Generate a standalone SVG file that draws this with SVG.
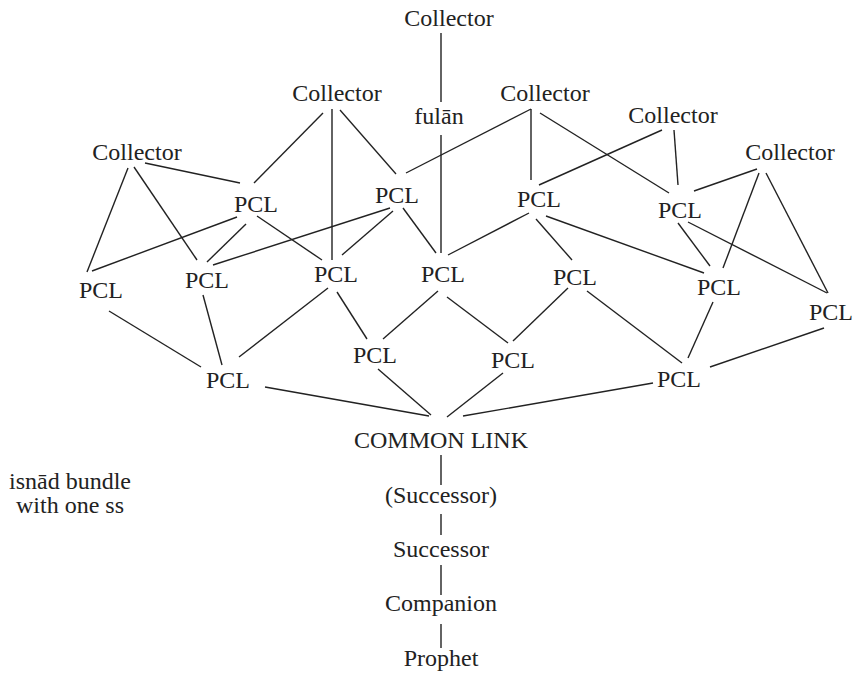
<svg xmlns="http://www.w3.org/2000/svg" width="854" height="678" viewBox="0 0 854 678">
<style>
text{font-family:"Liberation Serif",serif;font-size:24px;fill:#222;text-anchor:middle}
.e line{stroke:#222;stroke-width:1.4;fill:none}
</style>
<rect width="854" height="678" fill="#fff"/>
<g class="e" id="connectors">
<line x1="441" y1="33" x2="441" y2="102"/>
<line x1="441" y1="135" x2="441" y2="253"/>
<line x1="323" y1="113" x2="254" y2="183"/>
<line x1="332" y1="109" x2="332" y2="260"/>
<line x1="340" y1="110" x2="396" y2="174"/>
<line x1="531" y1="109" x2="406" y2="173"/>
<line x1="531" y1="109" x2="531" y2="180"/>
<line x1="540" y1="113" x2="669" y2="193"/>
<line x1="662" y1="130" x2="539" y2="185"/>
<line x1="674" y1="130" x2="678" y2="185"/>
<line x1="757" y1="169" x2="694" y2="191"/>
<line x1="759" y1="173" x2="723" y2="268"/>
<line x1="766" y1="173" x2="828" y2="293"/>
<line x1="128" y1="168" x2="87" y2="272"/>
<line x1="134" y1="167" x2="197" y2="260"/>
<line x1="145" y1="163" x2="240" y2="183"/>
<line x1="237" y1="217" x2="92" y2="271"/>
<line x1="246" y1="224" x2="207" y2="262"/>
<line x1="257" y1="216" x2="322" y2="260"/>
<line x1="390" y1="208" x2="213" y2="265"/>
<line x1="393" y1="211" x2="342" y2="255"/>
<line x1="403" y1="208" x2="436" y2="253"/>
<line x1="529" y1="213" x2="448" y2="255"/>
<line x1="536" y1="219" x2="572" y2="260"/>
<line x1="546" y1="216" x2="704" y2="273"/>
<line x1="678" y1="223" x2="710" y2="266"/>
<line x1="688" y1="222" x2="827" y2="293"/>
<line x1="109" y1="311" x2="201" y2="367"/>
<line x1="203" y1="295" x2="222" y2="365"/>
<line x1="328" y1="288" x2="239" y2="357"/>
<line x1="337" y1="292" x2="367" y2="339"/>
<line x1="438" y1="291" x2="383" y2="339"/>
<line x1="447" y1="297" x2="508" y2="343"/>
<line x1="568" y1="288" x2="513" y2="341"/>
<line x1="587" y1="291" x2="682" y2="363"/>
<line x1="713" y1="302" x2="688" y2="358"/>
<line x1="824" y1="328" x2="710" y2="367"/>
<line x1="265" y1="387" x2="429" y2="416"/>
<line x1="378" y1="369" x2="431" y2="415"/>
<line x1="503" y1="373" x2="447" y2="417"/>
<line x1="653" y1="383" x2="463" y2="416"/>
<line x1="441" y1="455" x2="441" y2="485"/>
<line x1="441" y1="514" x2="441" y2="535"/>
<line x1="441" y1="565" x2="441" y2="595"/>
<line x1="441" y1="624" x2="441" y2="648"/>
</g>
<g id="collector-top"><text x="449" y="26">Collector</text></g>
<g id="fulan"><text x="439" y="124">fulān</text></g>
<g id="collector-1"><text x="337" y="101">Collector</text></g>
<g id="collector-2"><text x="545" y="101">Collector</text></g>
<g id="collector-3"><text x="673" y="123">Collector</text></g>
<g id="collector-4"><text x="790" y="160">Collector</text></g>
<g id="collector-5"><text x="137" y="160">Collector</text></g>
<g id="pcl-a"><text x="256" y="212">PCL</text></g>
<g id="pcl-b"><text x="397" y="203">PCL</text></g>
<g id="pcl-e"><text x="539" y="207">PCL</text></g>
<g id="pcl-f"><text x="680" y="218">PCL</text></g>
<g id="pcl-i"><text x="101" y="298">PCL</text></g>
<g id="pcl-c"><text x="207" y="288">PCL</text></g>
<g id="pcl-d"><text x="336" y="282">PCL</text></g>
<g id="pcl-j"><text x="443" y="282">PCL</text></g>
<g id="pcl-k"><text x="575" y="285">PCL</text></g>
<g id="pcl-g"><text x="719" y="295">PCL</text></g>
<g id="pcl-h"><text x="831" y="320">PCL</text></g>
<g id="pcl-l"><text x="228" y="388">PCL</text></g>
<g id="pcl-m"><text x="375" y="363">PCL</text></g>
<g id="pcl-n"><text x="513" y="368">PCL</text></g>
<g id="pcl-o"><text x="679" y="387">PCL</text></g>
<g id="common-link"><text x="441" y="448">COMMON LINK</text></g>
<g id="successor-paren"><text x="441" y="503">(Successor)</text></g>
<g id="successor"><text x="441" y="557">Successor</text></g>
<g id="companion"><text x="441" y="611">Companion</text></g>
<g id="prophet"><text x="441" y="666">Prophet</text></g>
<g id="caption"><text x="70" y="489">isnād bundle</text><text x="70" y="513">with one ss</text></g>
</svg>
